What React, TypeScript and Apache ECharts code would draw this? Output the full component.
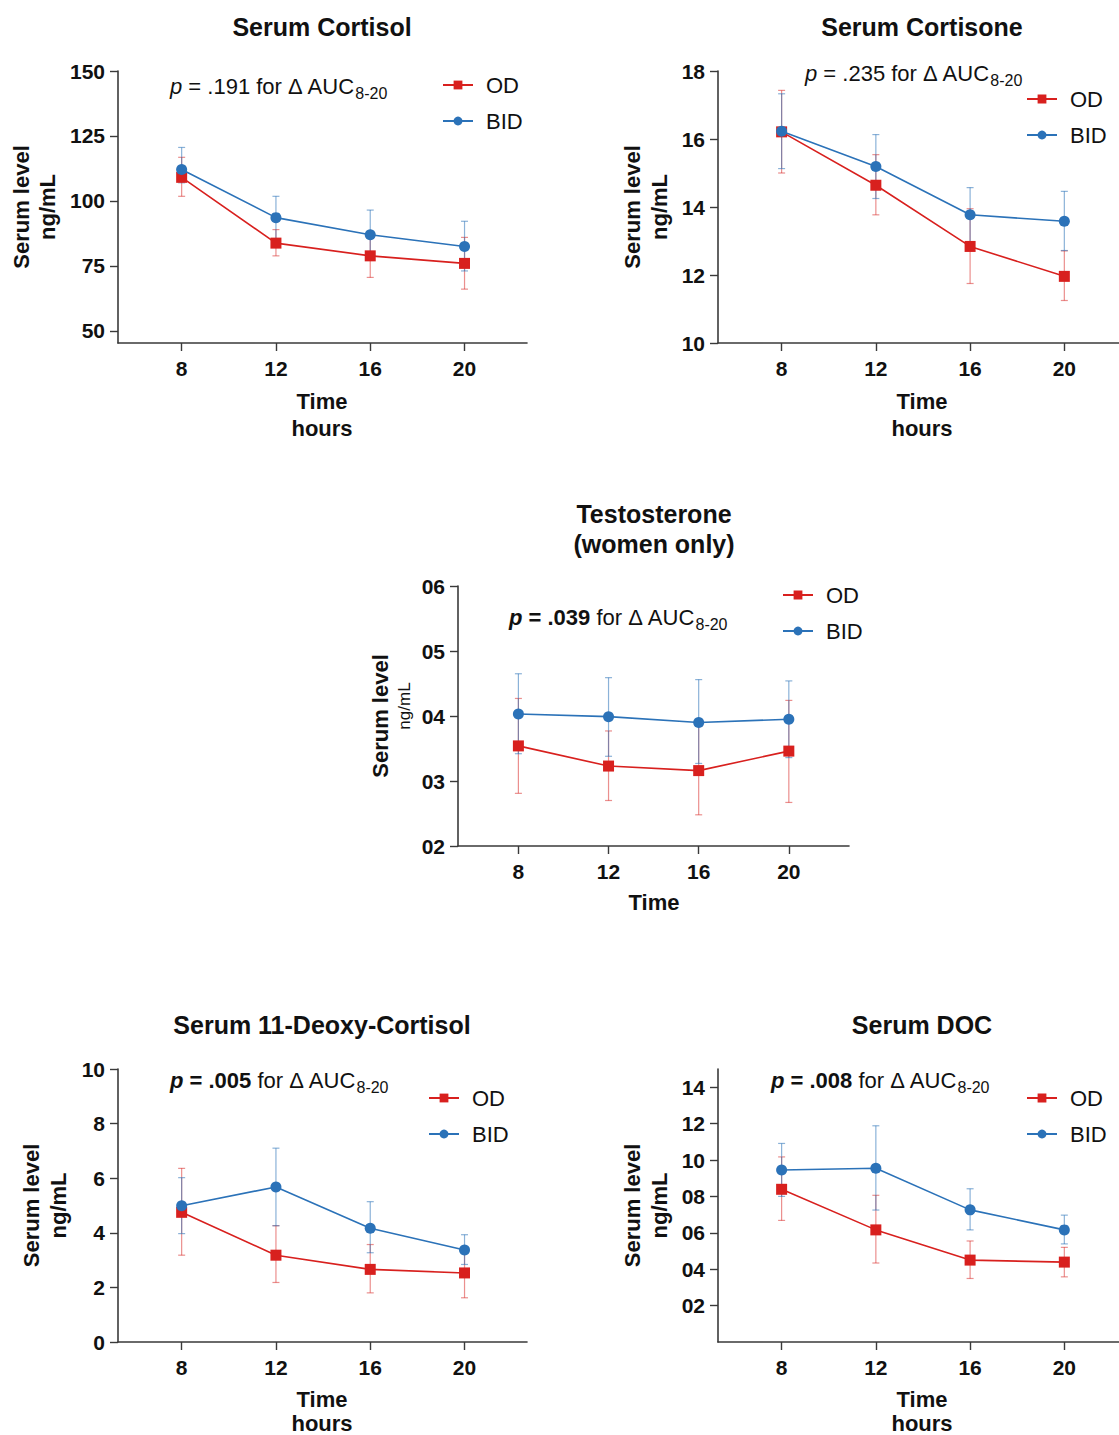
import React, { useEffect, useRef } from "react";
import * as echarts from "echarts";

// ---------- DATA ----------
const hours = [8, 12, 16, 20];
const hourTicks = [8, 12, 16, 20];

// Serum Cortisol
const cortisolOD = [109.1, 83.8, 78.9, 76.0];
const cortisolODLow = [101.8, 78.9, 70.6, 66.1];
const cortisolODHigh = [116.8, 89.0, 87.2, 86.0];
const cortisolBID = [112.1, 93.6, 87.0, 82.5];
const cortisolBIDLow = [107.0, 85.4, 77.5, 73.1];
const cortisolBIDHigh = [120.6, 101.8, 96.5, 92.2];
const cortisolTicks = [50, 75, 100, 125, 150];

// Serum Cortisone
const cortisoneOD = [16.21, 14.64, 12.84, 11.96];
const cortisoneODLow = [15.0, 13.77, 11.75, 11.25];
const cortisoneODHigh = [17.43, 15.54, 13.95, 12.71];
const cortisoneBID = [16.23, 15.19, 13.77, 13.58];
const cortisoneBIDLow = [15.13, 14.25, 12.97, 12.72];
const cortisoneBIDHigh = [17.33, 16.13, 14.57, 14.46];
const cortisoneTicks = [10, 12, 14, 16, 18];

// Testosterone (women only)
const testoOD = [0.354, 0.323, 0.316, 0.346];
const testoODLow = [0.281, 0.27, 0.248, 0.267];
const testoODHigh = [0.427, 0.377, 0.384, 0.424];
const testoBID = [0.403, 0.399, 0.39, 0.395];
const testoBIDLow = [0.342, 0.338, 0.327, 0.336];
const testoBIDHigh = [0.465, 0.459, 0.456, 0.454];
const testoTicks = [0.2, 0.3, 0.4, 0.5, 0.6];

// Serum 11-Deoxy-Cortisol
const deoxyOD = [4.75, 3.18, 2.66, 2.53];
const deoxyODLow = [3.18, 2.18, 1.8, 1.62];
const deoxyODHigh = [6.36, 4.26, 3.57, 3.46];
const deoxyBID = [4.99, 5.68, 4.17, 3.37];
const deoxyBIDLow = [3.97, 4.26, 3.27, 2.84];
const deoxyBIDHigh = [6.02, 7.1, 5.14, 3.93];
const deoxyTicks = [0, 2, 4, 6, 8, 10];

// Serum DOC
const docOD = [0.839, 0.616, 0.45, 0.439];
const docODLow = [0.668, 0.434, 0.349, 0.358];
const docODHigh = [1.017, 0.806, 0.555, 0.52];
const docBID = [0.945, 0.955, 0.726, 0.616];
const docBIDLow = [0.8, 0.725, 0.616, 0.539];
const docBIDHigh = [1.091, 1.188, 0.842, 0.697];
const docTicks = [0.2, 0.4, 0.6, 0.8, 1.0, 1.2, 1.4];

const seriesNames = ["OD", "BID"];

// ---------- STYLE ----------
const FONT = "'Liberation Sans', Arial, sans-serif";
const RED = "#D8201E";
const BLUE = "#2B72B8";
const RED_ERR = "rgba(216,32,30,0.5)";
const BLUE_ERR = "rgba(43,114,184,0.55)";
const AXIS = "#3a3a3a";
const TEXT = "#111";

const dotless = (v: number) => v.toFixed(1).replace(".", "");

type Panel = {
  title: string[];
  titleX: number;
  titleY: number;
  left: number;
  top: number;
  width: number;
  height: number;
  xMin: number;
  xMax: number;
  yMin: number;
  yMax: number;
  yTicks: number[];
  fmt: (v: number) => string;
  od: number[];
  odLow: number[];
  odHigh: number[];
  bid: number[];
  bidLow: number[];
  bidHigh: number[];
  pText: string;
  pX: number;
  pY: number;
  legendX: number;
  legendY: number;
  yName1X: number;
  yName2X: number;
  yName2Small: boolean;
  xNames: string[];
  xNameY: number;
  xNameGap: number;
};

const panels: Panel[] = [
  {
    title: ["Serum Cortisol"], titleX: 322, titleY: 27,
    left: 118, top: 71, width: 409, height: 272,
    xMin: 5.3, xMax: 22.65, yMin: 45.38, yMax: 150, yTicks: cortisolTicks,
    fmt: (v) => String(v),
    od: cortisolOD, odLow: cortisolODLow, odHigh: cortisolODHigh,
    bid: cortisolBID, bidLow: cortisolBIDLow, bidHigh: cortisolBIDHigh,
    pText: "{i|p}{n| = .191 for Δ AUC}{s|8-20}", pX: 170, pY: 86,
    legendX: 442, legendY: 73,
    yName1X: 21, yName2X: 47, yName2Small: false,
    xNames: ["Time", "hours"], xNameY: 401, xNameGap: 27,
  },
  {
    title: ["Serum Cortisone"], titleX: 922, titleY: 27,
    left: 718, top: 71, width: 401, height: 272,
    xMin: 5.3, xMax: 22.32, yMin: 10, yMax: 18, yTicks: cortisoneTicks,
    fmt: (v) => String(v),
    od: cortisoneOD, odLow: cortisoneODLow, odHigh: cortisoneODHigh,
    bid: cortisoneBID, bidLow: cortisoneBIDLow, bidHigh: cortisoneBIDHigh,
    pText: "{i|p}{n| = .235 for Δ AUC}{s|8-20}", pX: 805, pY: 73,
    legendX: 1026, legendY: 87,
    yName1X: 632, yName2X: 659, yName2Small: false,
    xNames: ["Time", "hours"], xNameY: 401, xNameGap: 27,
  },
  {
    title: ["Testosterone", "(women only)"], titleX: 654, titleY: 514,
    left: 458, top: 586, width: 391, height: 260,
    xMin: 5.32, xMax: 22.67, yMin: 0.2, yMax: 0.6, yTicks: testoTicks,
    fmt: dotless,
    od: testoOD, odLow: testoODLow, odHigh: testoODHigh,
    bid: testoBID, bidLow: testoBIDLow, bidHigh: testoBIDHigh,
    pText: "{bi|p}{b| = .039}{n| for Δ AUC}{s|8-20}", pX: 509, pY: 617,
    legendX: 782, legendY: 583,
    yName1X: 380, yName2X: 404, yName2Small: true,
    xNames: ["Time"], xNameY: 902, xNameGap: 27,
  },
  {
    title: ["Serum 11-Deoxy-Cortisol"], titleX: 322, titleY: 1025,
    left: 118, top: 1069, width: 409, height: 273,
    xMin: 5.3, xMax: 22.65, yMin: 0, yMax: 10, yTicks: deoxyTicks,
    fmt: (v) => String(v),
    od: deoxyOD, odLow: deoxyODLow, odHigh: deoxyODHigh,
    bid: deoxyBID, bidLow: deoxyBIDLow, bidHigh: deoxyBIDHigh,
    pText: "{bi|p}{b| = .005}{n| for Δ AUC}{s|8-20}", pX: 170, pY: 1080,
    legendX: 428, legendY: 1086,
    yName1X: 31, yName2X: 58, yName2Small: false,
    xNames: ["Time", "hours"], xNameY: 1399, xNameGap: 24,
  },
  {
    title: ["Serum DOC"], titleX: 922, titleY: 1025,
    left: 718, top: 1069, width: 401, height: 273,
    xMin: 5.3, xMax: 22.32, yMin: 0, yMax: 1.5, yTicks: docTicks,
    fmt: dotless,
    od: docOD, odLow: docODLow, odHigh: docODHigh,
    bid: docBID, bidLow: docBIDLow, bidHigh: docBIDHigh,
    pText: "{bi|p}{b| = .008}{n| for Δ AUC}{s|8-20}", pX: 771, pY: 1080,
    legendX: 1026, legendY: 1086,
    yName1X: 632, yName2X: 659, yName2Small: false,
    xNames: ["Time", "hours"], xNameY: 1399, xNameGap: 24,
  },
];

function errorSeries(name: string, lo: number[], hi: number[], color: string, idx: number) {
  return {
    type: "custom",
    name,
    xAxisIndex: idx,
    yAxisIndex: idx,
    z: 1,
    silent: true,
    encode: { x: 0, y: [1, 2] },
    data: hours.map((h, i) => [h, lo[i], hi[i]]),
    renderItem: (_params: any, api: any) => {
      const x = api.value(0);
      const pLo = api.coord([x, api.value(1)]);
      const pHi = api.coord([x, api.value(2)]);
      const cap = 3.5;
      const style = { stroke: color, lineWidth: 1.2 };
      return {
        type: "group",
        children: [
          { type: "line", shape: { x1: pLo[0], y1: pLo[1], x2: pHi[0], y2: pHi[1] }, style },
          { type: "line", shape: { x1: pLo[0] - cap, y1: pLo[1], x2: pLo[0] + cap, y2: pLo[1] }, style },
          { type: "line", shape: { x1: pHi[0] - cap, y1: pHi[1], x2: pHi[0] + cap, y2: pHi[1] }, style },
        ],
      };
    },
  };
}

function buildOption() {
  const grid: any[] = [];
  const xAxis: any[] = [];
  const yAxis: any[] = [];
  const series: any[] = [];
  const legend: any[] = [];
  const graphic: any[] = [];

  const mainTok = { fontFamily: FONT, fontSize: 22, color: TEXT, lineHeight: 30, verticalAlign: "middle" };

  panels.forEach((p, idx) => {
    grid.push({ left: p.left, top: p.top, width: p.width, height: p.height, containLabel: false });
    xAxis.push({
      type: "value",
      gridIndex: idx,
      min: p.xMin,
      max: p.xMax,
      splitLine: { show: false },
      axisLine: { show: true, onZero: false, lineStyle: { color: AXIS, width: 1.6 } },
      axisTick: { show: true, customValues: hourTicks, length: 8, lineStyle: { color: AXIS, width: 1.4 } },
      axisLabel: {
        customValues: hourTicks,
        fontFamily: FONT,
        fontSize: 21,
        fontWeight: "bold",
        color: TEXT,
        margin: 15,
      },
    });
    yAxis.push({
      type: "value",
      gridIndex: idx,
      min: p.yMin,
      max: p.yMax,
      splitLine: { show: false },
      axisLine: { show: true, onZero: false, lineStyle: { color: AXIS, width: 1.6 } },
      axisTick: { show: true, customValues: p.yTicks, length: 8, lineStyle: { color: AXIS, width: 1.4 } },
      axisLabel: {
        customValues: p.yTicks,
        formatter: p.fmt,
        fontFamily: FONT,
        fontSize: 21,
        fontWeight: "bold",
        color: TEXT,
        margin: 13,
      },
    });

    series.push(errorSeries("OD err", p.odLow, p.odHigh, RED_ERR, idx));
    series.push(errorSeries("BID err", p.bidLow, p.bidHigh, BLUE_ERR, idx));
    series.push({
      type: "line",
      name: seriesNames[0],
      xAxisIndex: idx,
      yAxisIndex: idx,
      z: 3,
      data: hours.map((h, i) => [h, p.od[i]]),
      symbol: "rect",
      symbolSize: 11,
      itemStyle: { color: RED },
      lineStyle: { color: RED, width: 1.6 },
    });
    series.push({
      type: "line",
      name: seriesNames[1],
      xAxisIndex: idx,
      yAxisIndex: idx,
      z: 4,
      data: hours.map((h, i) => [h, p.bid[i]]),
      symbol: "circle",
      symbolSize: 11,
      itemStyle: { color: BLUE },
      lineStyle: { color: BLUE, width: 1.6 },
    });

    legend.push({
      data: seriesNames,
      orient: "vertical",
      left: p.legendX,
      top: p.legendY,
      itemWidth: 30,
      itemHeight: 11,
      itemGap: 12,
      selectedMode: false,
      padding: 0,
      textStyle: {
        fontFamily: FONT,
        fontSize: 22,
        color: TEXT,
        lineHeight: 24,
        padding: [0, 0, 0, 8],
      },
    });

    // Title
    const multi = p.title.length > 1;
    graphic.push({
      type: "text",
      x: p.titleX,
      y: multi ? p.titleY - 15 : p.titleY,
      style: {
        text: p.title.join("\n"),
        fontFamily: FONT,
        fontSize: 25,
        fontWeight: "bold",
        fill: TEXT,
        align: "center",
        verticalAlign: multi ? "top" : "middle",
        lineHeight: 30,
      },
    });

    // p-value annotation
    graphic.push({
      type: "text",
      x: p.pX,
      y: p.pY,
      style: {
        text: p.pText,
        fontFamily: FONT,
        fontSize: 22,
        fill: TEXT,
        align: "left",
        verticalAlign: "middle",
        rich: {
          n: { ...mainTok },
          i: { ...mainTok, fontStyle: "italic" },
          b: { ...mainTok, fontWeight: "bold" },
          bi: { ...mainTok, fontWeight: "bold", fontStyle: "italic" },
          s: { fontFamily: FONT, fontSize: 16, color: TEXT, lineHeight: 16, verticalAlign: "bottom" },
        },
      },
    });

    // Y axis name (rotated)
    const midY = p.top + p.height / 2;
    graphic.push({
      type: "text",
      x: p.yName1X,
      y: midY,
      rotation: Math.PI / 2,
      style: {
        text: "Serum level",
        fontFamily: FONT,
        fontSize: 22,
        fontWeight: "bold",
        fill: TEXT,
        align: "center",
        verticalAlign: "middle",
      },
    });
    graphic.push({
      type: "text",
      x: p.yName2X,
      y: p.yName2Small ? midY - 10 : midY,
      rotation: Math.PI / 2,
      style: {
        text: "ng/mL",
        fontFamily: FONT,
        fontSize: p.yName2Small ? 17 : 22,
        fontWeight: p.yName2Small ? "normal" : "bold",
        fill: TEXT,
        align: "center",
        verticalAlign: "middle",
      },
    });

    // X axis name
    p.xNames.forEach((t, k) => {
      graphic.push({
        type: "text",
        x: p.titleX,
        y: p.xNameY + k * p.xNameGap,
        style: {
          text: t,
          fontFamily: FONT,
          fontSize: 22,
          fontWeight: "bold",
          fill: TEXT,
          align: "center",
          verticalAlign: "middle",
        },
      });
    });
  });

  return {
    animation: false,
    backgroundColor: "#ffffff",
    grid,
    xAxis,
    yAxis,
    series,
    legend,
    graphic,
  };
}

export default function App() {
  const ref = useRef<HTMLDivElement>(null);
  useEffect(() => {
    if (!ref.current) return;
    const chart = echarts.init(ref.current, undefined, { renderer: "svg" });
    chart.setOption(buildOption() as any);
    return () => chart.dispose();
  }, []);
  return (
    <div
      ref={ref}
      style={{ position: "absolute", left: 0, top: 0, width: 1119, height: 1435, background: "#fff" }}
    />
  );
}
